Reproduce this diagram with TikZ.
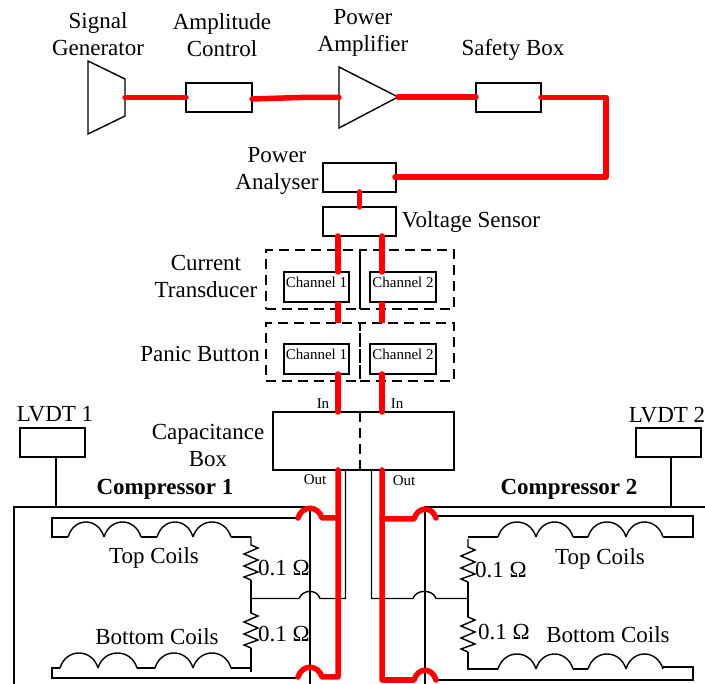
\documentclass[tikz,border=0pt]{standalone}
\usepackage{fontspec}
\setmainfont{Liberation Serif}
\tikzset{
	lbl/.style={inner sep=0,outer sep=0,align=center,font=\fontsize{23}{27}\selectfont},
	tiny/.style={inner sep=0,outer sep=0,font=\fontsize{15}{16}\selectfont},
	chan/.style={tiny,text height=9pt,text depth=7pt},
	unit/.style={draw,line width=1.3pt,inner sep=0,outer sep=0,anchor=north west},
	group/.style={draw,dashed,dash pattern=on 10pt off 6pt,line width=1.3pt,inner sep=0,outer sep=0,anchor=north west},
	wire/.style={line width=1.4pt},
	power/.style={red,line width=5.5pt,line cap=round,line join=round},
	resistor/.pic={\draw[wire] (0,-8) -- (0,0) -- (7,3) -- (-7,9) -- (7,15) -- (-7,21) -- (7,27) -- (-7,32) -- (0,35);}
}
\begin{document}
\begin{tikzpicture}[x=1pt,y=-1pt]
	\useasboundingbox (0,0) rectangle (705,684);
	% top row
	\draw[wire] (88,61) -- (125,79) -- (125,116) -- (88,134) -- cycle;
	\coordinate (gen) at (125,97.5);
	\node[unit,minimum width=66pt,minimum height=29pt] (ampl) at (186,83) {};
	\draw[wire] (339,67) -- (398,97) -- (339,128) -- cycle;
	\coordinate (pain) at (339,97.5);
	\coordinate (paout) at (398,97);
	\node[unit,minimum width=65pt,minimum height=29pt] (safety) at (476,83) {};
	\node[unit,minimum width=73pt,minimum height=29pt] (analyser) at (323,163) {};
	\node[unit,minimum width=73pt,minimum height=29pt] (sensor) at (323,207) {};
	\coordinate (corner1) at (606,97.5);
	\coordinate (corner2) at (606,177);
	\coordinate (anaright) at (395,177);
	\coordinate (bend) at (300,97.5);
	\coordinate (amplout) at (252,99);
	% dashed groups
	\node[group,minimum width=94pt,minimum height=59pt] (curA) at (266,250) {};
	\node[group,minimum width=94pt,minimum height=59pt] (curB) at (360,250) {};
	\node[group,minimum width=94pt,minimum height=58pt] (panA) at (266,323) {};
	\node[group,minimum width=94pt,minimum height=58pt] (panB) at (360,323) {};
	\node[unit,fill=white,minimum width=65pt,minimum height=30pt,chan] (cur1) at (284,272) {Channel 1};
	\node[unit,fill=white,minimum width=66pt,minimum height=30pt,chan] (cur2) at (370,272) {Channel 2};
	\node[unit,fill=white,minimum width=65pt,minimum height=30pt,chan] (pan1) at (284,344) {Channel 1};
	\node[unit,fill=white,minimum width=66pt,minimum height=30pt,chan] (pan2) at (370,344) {Channel 2};
	\node[unit,minimum width=181pt,minimum height=58pt] (cap) at (273,412) {};
	\coordinate (capT) at (360,412);
	\coordinate (capB) at (360,470);
	\draw[wire,dashed,dash pattern=on 10pt off 6pt] (capT) -- (capB);
	% compressors
	\node[unit,minimum width=65pt,minimum height=29pt] (lvdtA) at (20,428) {};
	\node[unit,minimum width=65pt,minimum height=29pt] (lvdtB) at (636,428) {};
	\coordinate (comA) at (56,507);
	\coordinate (comB) at (671,507);
	\draw[wire] (lvdtA.south -| comA) -- (comA);
	\draw[wire] (lvdtB.south -| comB) -- (comB);
	\draw[wire] (14,684) -- (14,507) -- (310,507) -- (310,684);
	\draw[wire] (425,684) -- (425,507) -- (705,507);
	% coils 1
	\draw[wire] (298,518) -- (52,518) -- (52,537) -- (68,537);
	\foreach \a/\b in {68/104,104/141,157/193,193/231}
		\draw[wire] (\a,537) .. controls (\a+6,517) and (\b-6,517) .. (\b,537);
	\draw[wire] (141,537) -- (157,537);
	\draw[wire] (231,537) -- (251,537);
	\pic at (251,545) {resistor};
	\draw[wire] (251,580) -- (251,613);
	\pic at (251,613) {resistor};
	\draw[wire] (251,648) -- (251,672);
	\draw[wire] (251,668) -- (231,668);
	\foreach \a/\b in {60/98,98/137,155/193,193/231}
		\draw[wire] (\a,668) .. controls (\a+6,648) and (\b-6,648) .. (\b,668);
	\draw[wire] (137,668) -- (155,668);
	\draw[wire] (60,668) -- (52,668) -- (52,678) -- (298,678);
	% coils 2
	\draw[wire] (436,516) -- (693,516) -- (693,537) -- (663,537);
	\foreach \a/\b in {498/536,536/573,588/626,626/663}
		\draw[wire] (\a,537) .. controls (\a+6,517) and (\b-6,517) .. (\b,537);
	\draw[wire] (573,537) -- (588,537);
	\draw[wire] (498,537) -- (468,537);
	\pic at (468,547) {resistor};
	\draw[wire] (468,582) -- (468,617);
	\pic at (468,617) {resistor};
	\draw[wire] (468,652) -- (468,669) -- (498,669);
	\foreach \a/\b in {498/536,536/573,588/626,626/663}
		\draw[wire] (\a,669) .. controls (\a+6,649) and (\b-6,649) .. (\b,669);
	\draw[wire] (573,669) -- (588,669);
	\draw[wire] (663,667) -- (693,667) -- (693,680) -- (436,680);
	% sense wires
	\coordinate (senseA) at (345.5,470);
	\coordinate (senseB) at (371.5,470);
	\draw[wire] (senseA) -- (345.5,598.5) -- (320,598.5) .. controls (317,589) and (303,589) .. (299,598.5) -- (251,598.5);
	\draw[wire] (senseB) -- (371.5,598.5) -- (413,598.5) .. controls (416,589) and (433,589) .. (436,598.5) -- (468,598.5);
	% power path
	\coordinate (redL) at (338,470);
	\coordinate (redR) at (382,470);
	\draw[power] (gen) -- (ampl.west |- gen);
	\draw[power] (amplout) -- (bend) -- (pain);
	\draw[power] (paout) -- (safety.west |- paout);
	\draw[power] (safety.east |- corner1) -- (corner1) -- (corner2) -- (anaright);
	\draw[power] (analyser.south) -- (sensor.north);
	\draw[power] (sensor.south -| redL) -- (cur1.north -| redL);
	\draw[power] (sensor.south -| redR) -- (cur2.north -| redR);
	\draw[power,line cap=butt] (cur1.south -| redL) -- (panA.north -| redL);
	\draw[power,line cap=butt] (cur2.south -| redR) -- (panB.north -| redR);
	\draw[power] (pan1.south -| redL) -- (cap.north -| redL);
	\draw[power] (pan2.south -| redR) -- (cap.north -| redR);
	\draw[power] (redL) -- (338,677) -- (322,677) .. controls (318,664) and (302,664) .. (298,677);
	\draw[power] (338,518) -- (322,518) .. controls (318,505) and (302,505) .. (298,518);
	\draw[power] (redR) -- (382,680) -- (414,680) .. controls (418,667) and (432,667) .. (436,680);
	\draw[power] (382,519) -- (414,519) .. controls (418,506) and (432,506) .. (436,518);
	% labels
	\node[lbl] (lblgen) at (98,34) {Signal\\Generator};
	\node[lbl] (lblampl) at (222,35) {Amplitude\\Control};
	\node[lbl] (lblpa) at (363,33) {Power\\Amplifier};
	\node[lbl] (lblsafety) at (513,50) {Safety Box};
	\node[lbl] (lblana) at (277,171) {Power\\Analyser};
	\node[lbl] (lblsensor) at (471,222) {Voltage Sensor};
	\node[lbl] (lblcur) at (206,277) {Current\\Transducer};
	\node[lbl] (lblpan) at (200,354) {Panic Button};
	\node[lbl] (lblcap) at (208,445) {Capacitance\\Box};
	\node[tiny] (lblinA) at (323,404) {In};
	\node[tiny] (lblinB) at (397,404) {In};
	\node[tiny] (lbloutA) at (315,480) {Out};
	\node[tiny] (lbloutB) at (404,481) {Out};
	\node[lbl] (lbllvdtA) at (55,414) {LVDT 1};
	\node[lbl] (lbllvdtB) at (667,415) {LVDT 2};
	\node[lbl,font=\fontsize{23}{27}\selectfont\bfseries] (lblcomA) at (165,489) {Compressor 1};
	\node[lbl,font=\fontsize{23}{27}\selectfont\bfseries] (lblcomB) at (569,489) {Compressor 2};
	\node[lbl] (lbltopA) at (154,558) {Top Coils};
	\node[lbl] (lblbotA) at (157,637) {Bottom Coils};
	\node[lbl] (lbltopB) at (600,559) {Top Coils};
	\node[lbl] (lblbotB) at (608,635) {Bottom Coils};
	\node[lbl] (ohmA) at (284,568) {0.1 Ω};
	\node[lbl] (ohmB) at (284,634) {0.1 Ω};
	\node[lbl] (ohmC) at (501,570) {0.1 Ω};
	\node[lbl] (ohmD) at (504,632) {0.1 Ω};
\end{tikzpicture}
\end{document}
